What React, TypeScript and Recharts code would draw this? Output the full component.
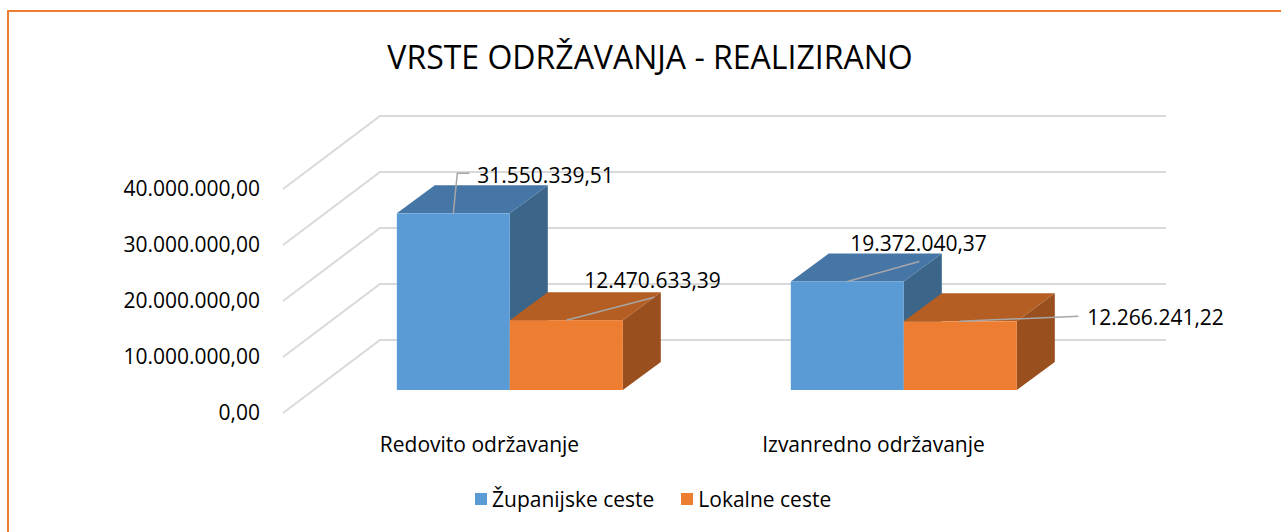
import { BarChart, Bar, XAxis, YAxis, CartesianGrid, LabelList } from "recharts";

const CATEGORIES = ["Redovito održavanje", "Izvanredno održavanje"];
const SERIES_NAMES = ["Županijske ceste", "Lokalne ceste"];
const ZUPANIJSKE = [31550339.51, 19372040.37];
const LOKALNE = [12470633.39, 12266241.22];
const Y_TICKS = [0, 10000000, 20000000, 30000000, 40000000];

const data = CATEGORIES.map((name, i) => ({ name, zup: ZUPANIJSKE[i], lok: LOKALNE[i] }));

const W = 1281;
const H = 532;
const PLOT_LEFT = 312.5;
const PLOT_RIGHT = 1100.5;
const PLOT_TOP = 166;
const PLOT_BOTTOM = 390;
const XAXIS_H = 60;

// 3D depth of the boxes and of the walls
const DX = 38;
const DY = -28;
const FONT = "'Open Sans', sans-serif";
const GRID = "#D9D9D9";
const LEADER = "#A6A6A6";

const fmt = (v: number) => {
    const [i, d] = v.toFixed(2).split(".");
    return i.replace(/\B(?=(\d{3})+(?!\d))/g, ".") + "," + d;
};

const COLORS = {
    zup: { front: "#5B9BD5", top: "#4676A5", side: "#3B6589" },
    lok: { front: "#ED7D31", top: "#B55E23", side: "#9A4F1E" },
};

// leader line + text position relative to the bar's top-center
const LABEL_LAYOUT = {
    zup: [
        { path: [[0, 0], [4, -40], [16, -40]], tx: 24, ty: -38 },
        { path: [[0, 0], [72, -20]], tx: 3, ty: -38 },
    ],
    lok: [
        { path: [[0, 0], [88, -23]], tx: 18, ty: -40 },
        { path: [[-1, 0], [118, -5]], tx: 127, ty: -4 },
    ],
};

const makeBox = (c: { front: string; top: string; side: string }) => (props: any) => {
    const { x, y, width: w, height: h } = props;
    return (
        <g>
            <polygon points={`${x + w},${y} ${x + w + DX},${y + DY} ${x + w + DX},${y + h + DY} ${x + w},${y + h}`} fill={c.side} />
            <polygon points={`${x},${y} ${x + DX},${y + DY} ${x + w + DX},${y + DY} ${x + w},${y}`} fill={c.top} />
            <rect x={x} y={y} width={w} height={h} fill={c.front} />
        </g>
    );
};

const makeLabel = (layout: any[]) => (props: any) => {
    const vb = props.viewBox || props;
    const L = layout[props.index];
    if (!L) return null;
    const cx = vb.x + vb.width / 2;
    const top = vb.y;
    const d = L.path.map((p: number[], i: number) => `${i ? "L" : "M"}${cx + p[0]},${top + p[1]}`).join(" ");
    return (
        <g>
            <path d={d} stroke={LEADER} strokeWidth={1.5} fill="none" />
            <text x={cx + L.tx} y={top + L.ty} dy="0.35em" fontFamily={FONT} fontSize={21} fill="#000">
                {fmt(Number(props.value))}
            </text>
        </g>
    );
};

// back wall line + floor diagonal for each y tick
const GridLine = (props: any) => {
    const y = props.y1;
    const d = `M${PLOT_LEFT - 29.5},${y + 23} L${PLOT_LEFT + 67.5},${y - 50} L${PLOT_RIGHT + 65.5},${y - 50}`;
    return <path key={props.key} d={d} stroke={GRID} strokeWidth={2} fill="none" />;
};

const YTick = (props: any) => (
    <text x={PLOT_LEFT - 52.5} y={props.y + 23} dy="0.35em" textAnchor="end" fontFamily={FONT} fontSize={21} fill="#000">
        {fmt(props.payload.value)}
    </text>
);

const XTick = (props: any) => (
    <text x={props.x - 30} y={PLOT_BOTTOM + 55} dy="0.35em" textAnchor="middle" fontFamily={FONT} fontSize={21} fill="#000">
        {props.payload.value}
    </text>
);

const App = () => {
    return (
        <div style={{ position: "absolute", left: 0, top: 0, width: W, height: H, background: "#fff", overflow: "hidden" }}>
            <div style={{ position: "absolute", left: 7, top: 10, width: W, height: H, borderTop: "2px solid #ED7D31", borderLeft: "2.5px solid #ED7D31" }} />
            <div style={{ position: "absolute", left: 0, top: 37, width: 1300, textAlign: "center", fontFamily: FONT, fontSize: 32, lineHeight: "40px", color: "#000" }}>
                VRSTE ODRŽAVANJA - REALIZIRANO
            </div>
            <BarChart
                width={W}
                height={H}
                data={data}
                barGap={0}
                barCategoryGap="21.4%"
                margin={{ top: PLOT_TOP, right: W - PLOT_RIGHT, bottom: H - PLOT_BOTTOM - XAXIS_H, left: 0 }}
                style={{ position: "absolute", left: 0, top: 0 }}
            >
                <CartesianGrid vertical={false} horizontal={GridLine} />
                <XAxis dataKey="name" axisLine={false} tickLine={false} height={XAXIS_H} tick={XTick} />
                <YAxis domain={[0, 40000000]} ticks={Y_TICKS} axisLine={false} tickLine={false} width={PLOT_LEFT} tick={YTick} />
                <Bar dataKey="zup" name={SERIES_NAMES[0]} shape={makeBox(COLORS.zup)} isAnimationActive={false}>
                    <LabelList dataKey="zup" content={makeLabel(LABEL_LAYOUT.zup)} />
                </Bar>
                <Bar dataKey="lok" name={SERIES_NAMES[1]} shape={makeBox(COLORS.lok)} isAnimationActive={false}>
                    <LabelList dataKey="lok" content={makeLabel(LABEL_LAYOUT.lok)} />
                </Bar>
            </BarChart>
            <div style={{ position: "absolute", left: 475, top: 484, display: "flex", alignItems: "center", fontFamily: FONT, fontSize: 21, lineHeight: "30px", color: "#000" }}>
                <span style={{ width: 12, height: 12, background: COLORS.zup.front, marginRight: 5 }} />
                <span>{SERIES_NAMES[0]}</span>
                <span style={{ width: 12, height: 12, background: COLORS.lok.front, marginLeft: 27, marginRight: 5 }} />
                <span>{SERIES_NAMES[1]}</span>
            </div>
        </div>
    );
};

export default App;
